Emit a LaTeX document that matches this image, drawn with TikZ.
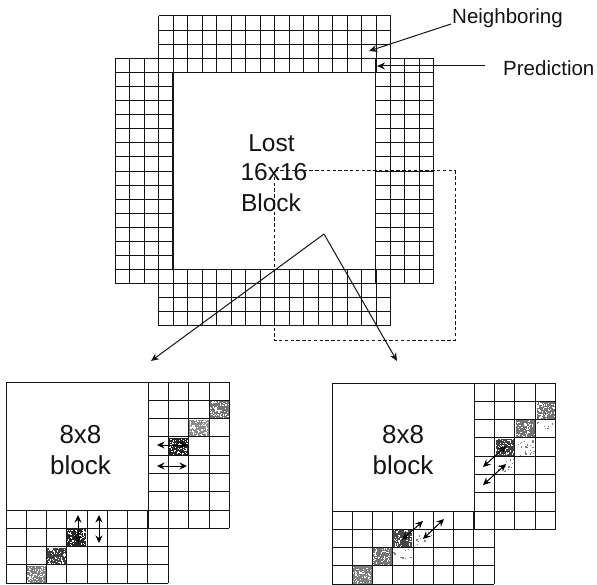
\documentclass[tikz,border=0pt]{standalone}
\usepackage{fontspec}
\setmainfont{Liberation Sans}
\usetikzlibrary{arrows.meta}
\pgfmathsetseed{4242}
\definecolor{ink}{gray}{0.08}
\tikzset{
  x=1pt,y=-1pt,
  gridline/.style={draw=ink,line width=1pt},
  heavyline/.style={draw=ink,line width=1.3pt},
  dashbox/.style={draw=ink,line width=1pt,dash pattern=on 3.4pt off 2.4pt},
  leader/.style={draw=ink,line width=1pt,-{Stealth[length=8pt,width=7pt]}},
  biarrow/.style={draw=black,line width=1pt,{Stealth[length=7.5pt,width=7pt]}-{Stealth[length=7.5pt,width=7pt]}},
  biglabel/.style={font=\fontsize{24.5}{24.5}\selectfont,text=ink,inner sep=0pt,anchor=center},
  panellabel/.style={font=\fontsize{26}{26}\selectfont,text=ink,inner sep=0pt,anchor=center},
  sidelabel/.style={font=\fontsize{20.5}{21}\selectfont,text=ink,inner sep=0pt,anchor=west},
}
% #1 x0, #2 y0, #3 dx, #4 dy, #5 cols, #6 rows
\newcommand{\cellgrid}[6]{%
  \foreach \ci in {0,...,#5}{\draw[gridline] ({#1+\ci*#3},#2) -- ({#1+\ci*#3},{#2+#6*#4});}
  \foreach \cj in {0,...,#6}{\draw[gridline] (#1,{#2+\cj*#4}) -- ({#1+#5*#3},{#2+\cj*#4});}
}
% #1 left x, #2 top y, #3 w, #4 h, #5 gray level, #6 number of specks, #7 speck colour
\newcommand{\specked}[7]{%
  \fill[black!#5] (#1,#2) rectangle ++(#3,#4);
  \foreach \sk in {1,...,#6}{%
    \pgfmathsetmacro{\sx}{#1+rnd*(#3-1.2)}%
    \pgfmathsetmacro{\sy}{#2+rnd*(#4-1.2)}%
    \fill[#7] (\sx,\sy) rectangle ++(1.2,1.2);
  }
}
\begin{document}
\begin{tikzpicture}
\useasboundingbox (0,0) rectangle (597,585);
\fill[white] (0,0) rectangle (597,585);
% ---------- main block
\cellgrid{158.5}{16}{14.5}{14.09}{16}{4}
\cellgrid{158.5}{269.6}{14.5}{14.09}{16}{4}
\cellgrid{115}{58.3}{14.5}{14.09}{4}{16}
\cellgrid{375.5}{58.3}{14.5}{14.09}{4}{16}
\draw[heavyline] (158.5,58.3) -- (375.5,58.3) (173,72.4) rectangle (375.5,269.6) (158.5,283.7) -- (390.5,283.7) (158.5,58.3) -- (158.5,269.6) (390.5,58.3) -- (390.5,283.7);
\node[biglabel] (lost) at (271.5,143) {Lost};
\node[biglabel] (size) at (274,172) {16x16};
\node[biglabel] (blk) at (271,203) {Block};
\draw[dashbox] (274,171) rectangle (455,340);
% labels and leaders
\node[sidelabel] (nei) at (452,18) {Neighboring};
\node[sidelabel] (pre) at (503,68) {Prediction};
\coordinate (neiEnd) at (369,51);
\coordinate (neiStart) at (451,24);
\coordinate (preEnd) at (377,66);
\coordinate (preStart) at (485,66);
\draw[leader] (neiStart) -- (neiEnd);
\draw[leader] (preStart) -- (preEnd);
% spreading arrows
\coordinate (apex) at (324,234);
\coordinate (tipL) at (151,361);
\coordinate (tipR) at (397,361);
\draw[leader] (apex) -- (tipL);
\draw[leader] (apex) -- (tipR);
% ---------- left 8x8 panel
\specked{209.5}{401.3}{19.3}{17.3}{55}{70}{white}
\specked{189.2}{419.6}{19.3}{17.3}{45}{80}{white}
\specked{168.9}{438}{19.3}{17.3}{85}{60}{white}
\specked{66.8}{529.3}{19.3}{17.3}{85}{60}{white}
\specked{46.5}{547.6}{19.3}{17.3}{75}{60}{white}
\specked{26.3}{566}{19.3}{17.3}{50}{70}{white}
\cellgrid{148.3}{382}{20.27}{18.3}{4}{8}
\cellgrid{6}{510}{20.27}{18.3}{8}{4}
\draw[gridline] (6,382) rectangle (148.3,510);
\node[panellabel] (ltxt) at (80.5,435) {8x8};
\node[panellabel] (lbk) at (80.5,465) {block};
\coordinate (la1) at (157,445); \coordinate (la2) at (187,445);
\coordinate (la3) at (157,466); \coordinate (la4) at (187,466);
\coordinate (la5) at (78,515); \coordinate (la6) at (78,543);
\coordinate (la7) at (99,515); \coordinate (la8) at (99,543);
\draw[biarrow] (la1) -- (la2);
\draw[biarrow] (la3) -- (la4);
\draw[biarrow] (la5) -- (la6);
\draw[biarrow] (la7) -- (la8);
% ---------- right 8x8 panel
\specked{536.5}{402}{19.3}{17.3}{55}{60}{white}
\specked{515.8}{420.3}{19.3}{17.3}{55}{45}{white}
\specked{495.5}{438.6}{19.3}{17.3}{75}{45}{white}
\specked{536.5}{420.3}{19.3}{17.3}{0}{8}{gray}
\specked{515.8}{438.6}{19.3}{17.3}{0}{22}{gray}
\specked{495.5}{457}{19.3}{17.3}{0}{14}{gray}
\specked{393}{529.8}{19.3}{17.3}{72}{50}{white}
\specked{372.5}{548}{19.3}{17.3}{55}{50}{white}
\specked{352.3}{566.4}{19.3}{17.3}{50}{60}{white}
\specked{413.3}{529.8}{19.3}{17.3}{0}{8}{gray}
\specked{393}{548}{19.3}{17.3}{0}{10}{gray}
\cellgrid{474}{383}{20.4}{18.3}{4}{8}
\cellgrid{332}{511}{20.27}{18.3}{8}{4}
\draw[gridline] (332,383) rectangle (474,511);
\node[panellabel] (rtxt) at (403,435) {8x8};
\node[panellabel] (rbk) at (403,465) {block};
\coordinate (ra1) at (483,467); \coordinate (ra2) at (506,446);
\coordinate (ra3) at (483,485); \coordinate (ra4) at (506,464);
\coordinate (ra5) at (402,540); \coordinate (ra6) at (423,521);
\coordinate (ra7) at (423,539); \coordinate (ra8) at (444,519);
\draw[biarrow] (ra1) -- (ra2);
\draw[biarrow] (ra3) -- (ra4);
\draw[biarrow] (ra5) -- (ra6);
\draw[biarrow] (ra7) -- (ra8);
\end{tikzpicture}
\end{document}
